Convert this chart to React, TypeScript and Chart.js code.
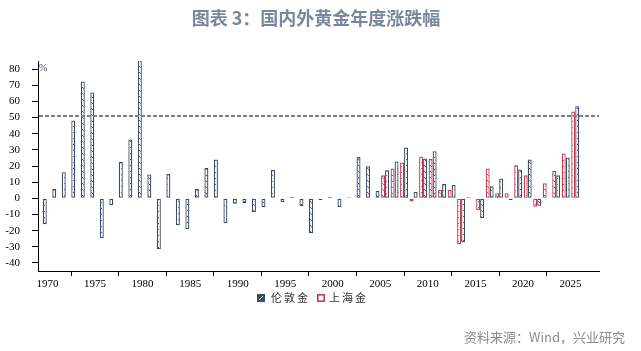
import React, { useEffect, useRef } from 'react';
import { Chart, registerables } from 'chart.js';

Chart.register(...registerables);

// ---- Data ----
const YEARS = [
  1969, 1970, 1971, 1972, 1973, 1974, 1975, 1976, 1977, 1978, 1979,
  1980, 1981, 1982, 1983, 1984, 1985, 1986, 1987, 1988, 1989,
  1990, 1991, 1992, 1993, 1994, 1995, 1996, 1997, 1998, 1999,
  2000, 2001, 2002, 2003, 2004, 2005, 2006, 2007, 2008, 2009,
  2010, 2011, 2012, 2013, 2014, 2015, 2016, 2017, 2018, 2019,
  2020, 2021, 2022, 2023, 2024, 2025,
];

// 伦敦金 annual change (%)
const LONDON = [
  -16, 5.7, 16.1, 48.2, 72.3, 65.5, -24.7, -4.3, 22.4, 36.4, 126,
  14.8, -31.5, 15.0, -16.7, -19.2, 5.7, 18.7, 24.1, -15.5, -3.3,
  -3.1, -8.6, -5.6, 17.5, -2.5, 0.8, -4.9, -21.6, -1.0, 0.8,
  -5.4, 0.6, 25.5, 19.9, 4.5, 17.3, 22.8, 31.5, 4.1, 24.7,
  29.2, 8.8, 8.2, -27.2, -0.3, -12.4, 7.4, 12.3, -1.0, 17.9,
  24.1, -4.6, -0.3, 14.2, 25.3, 57.0,
];

// 上海金 annual change (%), from 2005
const SHANGHAI_START = 2005;
const SHANGHAI = [
  14.2, 18.5, 22.2, -1.9, 25.9,
  24.3, 5.1, 5.1, -28.4, 0.8, -7.3, 18.5, 3.1, 3.1, 20.4,
  14.2, -5.2, 9.3, 16.9, 27.8, 53.7,
];

const X_TICKS = [1970, 1975, 1980, 1985, 1990, 1995, 2000, 2005, 2010, 2015, 2020, 2025];
const Y_TICKS = [-40, -30, -20, -10, 0, 10, 20, 30, 40, 50, 60, 70, 80];
const REF_LINE = 51;

const TITLE = '图表 3：国内外黄金年度涨跌幅';
const SOURCE = '资料来源：Wind，兴业研究';
const LONDON_LABEL = '伦敦金';
const SHANGHAI_LABEL = '上海金';

const BLUE = '#3E4C63';
const RED = '#C23B55';

function makePattern(color: string): CanvasPattern | string {
  const c = document.createElement('canvas');
  c.width = 6;
  c.height = 6;
  const g = c.getContext('2d');
  if (!g) return '#fff';
  g.fillStyle = '#ffffff';
  g.fillRect(0, 0, 6, 6);
  g.fillStyle = color;
  g.fillRect(1, 0, 1, 1);
  g.fillRect(2, 1, 1, 1);
  g.fillRect(4, 3, 1, 1);
  g.fillRect(5, 4, 1, 1);
  const ctx = document.createElement('canvas').getContext('2d');
  const p = ctx ? ctx.createPattern(c, 'repeat') : null;
  return p || '#fff';
}

const decor = {
  id: 'decor',
  afterDatasetsDraw(chart: any) {
    const { ctx, chartArea, scales } = chart;
    const y = Math.round(scales.y.getPixelForValue(REF_LINE));
    ctx.save();
    ctx.beginPath();
    ctx.setLineDash([4, 2]);
    ctx.lineWidth = 2;
    ctx.strokeStyle = '#808080';
    ctx.moveTo(chartArea.left + 1, y);
    ctx.lineTo(chartArea.right, y);
    ctx.stroke();
    ctx.restore();
  },
  afterDraw(chart: any) {
    const { ctx, chartArea } = chart;
    ctx.save();
    // Title
    ctx.font = 'bold 18px "Noto Sans CJK SC"';
    ctx.fillStyle = '#7b879c';
    ctx.textAlign = 'center';
    ctx.textBaseline = 'middle';
    ctx.fillText(TITLE, 316, 18);

    // % unit
    ctx.font = '10px "Liberation Serif"';
    ctx.fillStyle = '#44546A';
    ctx.textAlign = 'left';
    ctx.fillText('%', chartArea.left + 1, 68);

    // Legend
    const ly = 298;
    ctx.fillStyle = BLUE;
    ctx.fillRect(257, ly - 4, 8, 8);
    ctx.strokeStyle = '#ffffff';
    ctx.lineWidth = 1;
    ctx.beginPath();
    ctx.moveTo(259, ly + 2);
    ctx.lineTo(263, ly - 2);
    ctx.stroke();
    ctx.fillStyle = '#ffffff';
    ctx.fillRect(317, ly - 4, 8, 8);
    ctx.strokeStyle = RED;
    ctx.lineWidth = 1.6;
    ctx.strokeRect(317.8, ly - 3.2, 6.4, 6.4);

    ctx.font = '11px "Noto Sans CJK SC"';
    (ctx as any).letterSpacing = '2px';
    ctx.fillStyle = '#333333';
    ctx.textAlign = 'left';
    ctx.textBaseline = 'middle';
    ctx.fillText(LONDON_LABEL, 271, ly);
    ctx.fillText(SHANGHAI_LABEL, 329, ly);
    (ctx as any).letterSpacing = '0px';

    // Source
    ctx.font = '13px "Noto Sans CJK SC"';
    ctx.fillStyle = '#8c8c8c';
    ctx.textAlign = 'right';
    ctx.fillText(SOURCE, 625, 337);
    ctx.restore();
  },
};

export default function App() {
  const ref = useRef<HTMLCanvasElement | null>(null);

  useEffect(() => {
    if (!ref.current) return;
    const londonData = YEARS.map((yr, i) => ({ x: yr + 0.5, y: LONDON[i] }));
    const shanghaiData = SHANGHAI.map((v, i) => ({ x: SHANGHAI_START + i + 0.5, y: v }));

    const chart = new Chart(ref.current, {
      type: 'bar',
      data: {
        datasets: [
          {
            label: SHANGHAI_LABEL,
            data: shanghaiData,
            backgroundColor: makePattern(RED) as any,
            borderColor: RED,
            borderWidth: 1.3,
            borderSkipped: false,
            inflateAmount: 0,
            categoryPercentage: 0.84,
            barPercentage: 1.0,
          },
          {
            label: LONDON_LABEL,
            data: londonData,
            backgroundColor: makePattern(BLUE) as any,
            borderColor: BLUE,
            borderWidth: 1.3,
            borderSkipped: false,
            inflateAmount: 0,
            categoryPercentage: 0.84,
            barPercentage: 1.0,
          },
        ],
      },
      options: {
        responsive: false,
        animation: false,
        devicePixelRatio: 1,
        layout: { padding: { top: 61, right: 42, bottom: 0, left: 0 } },
        plugins: {
          legend: { display: false },
          tooltip: { enabled: false },
          title: { display: false },
        },
        scales: {
          x: {
            type: 'linear',
            min: 1969,
            max: 2028,
            offset: false,
            afterFit: (s: any) => { s.height = 80; },
            afterBuildTicks: (s: any) => { s.ticks = X_TICKS.map((v) => ({ value: v })); },
            grid: {
              drawOnChartArea: false,
              drawTicks: true,
              tickLength: 5,
              color: '#000',
              tickColor: (c: any) => (c.tick && X_TICKS.includes(c.tick.value) ? '#000' : 'rgba(0,0,0,0)'),
            },
            border: { display: true, color: '#000', width: 1 },
            ticks: {
              autoSkip: false,
              maxRotation: 0,
              padding: 2,
              color: '#000',
              font: { family: '"Liberation Serif"', size: 11 },
              callback: (v: any) => (X_TICKS.includes(v) ? String(v) : ''),
            },
          },
          y: {
            min: -45,
            max: 85,
            afterFit: (s: any) => { s.width = 38; },
            afterBuildTicks: (s: any) => { s.ticks = Y_TICKS.map((v) => ({ value: v })); },
            grid: { drawOnChartArea: false, drawTicks: true, tickLength: 6, color: '#000', tickColor: '#000' },
            border: { display: true, color: '#000', width: 1 },
            ticks: {
              padding: 12,
              color: '#000',
              font: { family: '"Liberation Serif"', size: 11 },
              callback: (v: any) => String(v),
            },
          },
        },
      },
      plugins: [decor],
    });
    return () => chart.destroy();
  }, []);

  return (
    <div style={{ position: 'absolute', left: 0, top: 0, width: 641, height: 351, background: '#fff' }}>
      <canvas ref={ref} width={641} height={351} style={{ display: 'block', width: 641, height: 351 }} />
    </div>
  );
}
